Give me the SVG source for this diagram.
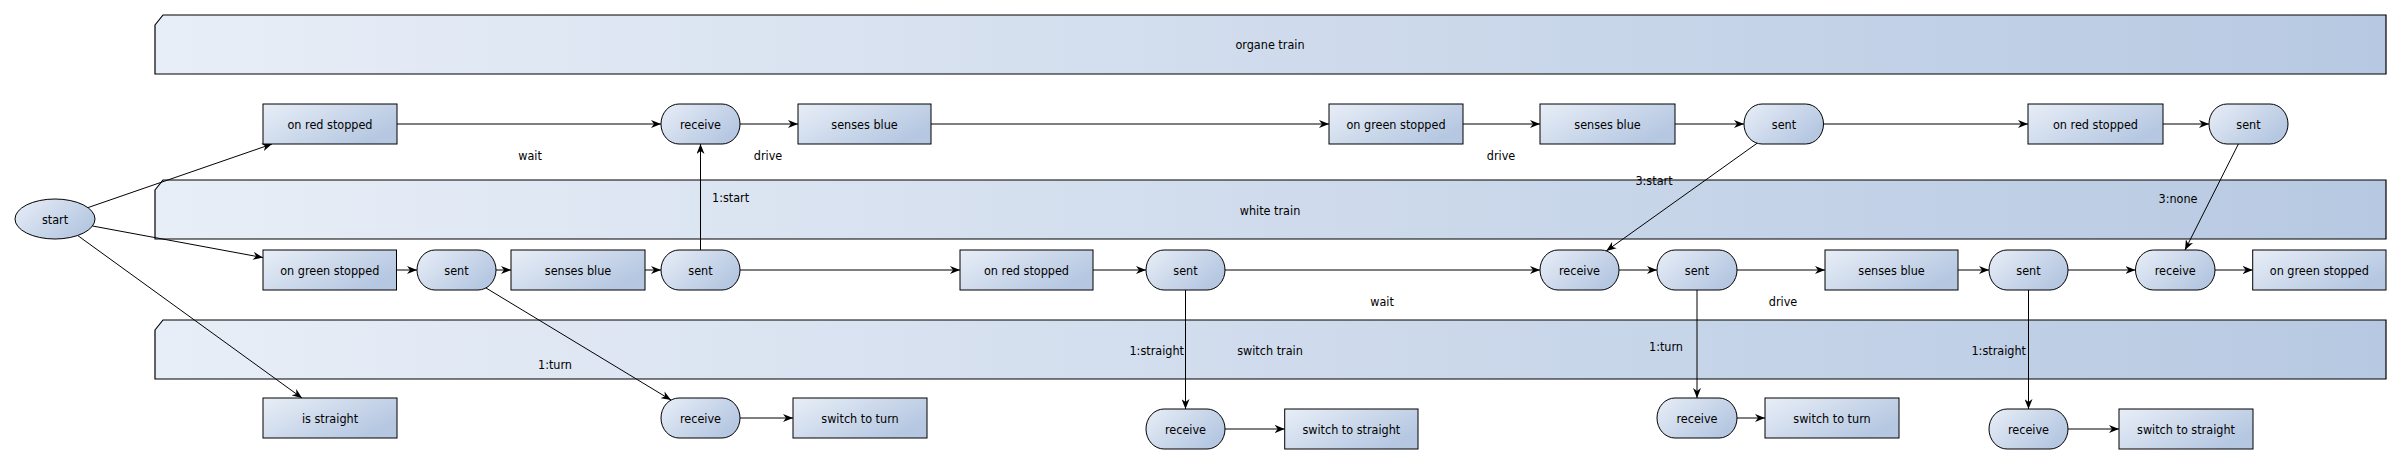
<svg xmlns="http://www.w3.org/2000/svg" width="2402" height="464" viewBox="0 0 2402 464">
<style>
text{font-family:"DejaVu Sans Condensed","DejaVu Sans","Liberation Sans",sans-serif;font-size:12.5px;fill:#000;text-anchor:middle;dominant-baseline:central}
.n{fill:url(#ng);stroke:#000;stroke-width:1}
.b{fill:url(#bg);stroke:#000;stroke-width:1.2}
.e{fill:none;stroke:#000;stroke-width:1;marker-end:url(#ar)}
.end{text-anchor:end}
.start{text-anchor:start}
</style>
<defs>
<linearGradient id="ng" x1="0" y1="0" x2="1" y2="0.6">
<stop offset="0" stop-color="#e8eef7"/>
<stop offset="1" stop-color="#b5c7e1"/>
</linearGradient>
<linearGradient id="bg" x1="0" y1="0" x2="1" y2="0">
<stop offset="0" stop-color="#e8eef7"/>
<stop offset="1" stop-color="#b7c9e2"/>
</linearGradient>
<marker id="ar" markerWidth="10" markerHeight="8" refX="10" refY="4" orient="auto" markerUnits="userSpaceOnUse">
<path d="M0,0 L10,4 L0,8 L3,4 Z" fill="#000"/>
</marker>
</defs>

<g id="lane-organe">
<path class="b" d="M155,25 L163,15 L2386,15 L2386,74 L155,74 Z"/>
<text x="1270" y="44">organe train</text>
</g>
<g id="lane-white">
<path class="b" d="M155,190 L163,180 L2386,180 L2386,239 L155,239 Z"/>
<text x="1270" y="210">white train</text>
</g>
<g id="lane-switch">
<path class="b" d="M155,330 L163,320 L2386,320 L2386,379 L155,379 Z"/>
<text x="1270" y="350">switch train</text>
</g>

<g id="connectors">
<line class="e" x1="88" y1="207.6" x2="272" y2="144"/>
<line class="e" x1="92.5" y1="226" x2="263" y2="257.6"/>
<line class="e" x1="77.7" y1="235.5" x2="302" y2="398"/>
<line class="e" x1="397" y1="124" x2="661" y2="124"/>
<line class="e" x1="740" y1="124" x2="798" y2="124"/>
<line class="e" x1="931" y1="124" x2="1329" y2="124"/>
<line class="e" x1="1463" y1="124" x2="1540" y2="124"/>
<line class="e" x1="1675" y1="124" x2="1744" y2="124"/>
<line class="e" x1="1823.5" y1="124" x2="2028" y2="124"/>
<line class="e" x1="2163" y1="124" x2="2209" y2="124"/>
<line class="e" x1="396.5" y1="270" x2="417" y2="270"/>
<line class="e" x1="496" y1="270" x2="511" y2="270"/>
<line class="e" x1="645" y1="270" x2="661" y2="270"/>
<line class="e" x1="740" y1="270" x2="960" y2="270"/>
<line class="e" x1="1093" y1="270" x2="1146" y2="270"/>
<line class="e" x1="1225" y1="270" x2="1540" y2="270"/>
<line class="e" x1="1619" y1="270" x2="1657" y2="270"/>
<line class="e" x1="1737" y1="270" x2="1825" y2="270"/>
<line class="e" x1="1958" y1="270" x2="1989" y2="270"/>
<line class="e" x1="2068" y1="270" x2="2135.5" y2="270"/>
<line class="e" x1="2215" y1="270" x2="2252.7" y2="270"/>
<line class="e" x1="740" y1="418" x2="793" y2="418"/>
<line class="e" x1="1737" y1="418" x2="1765" y2="418"/>
<line class="e" x1="1225" y1="429" x2="1284.7" y2="429"/>
<line class="e" x1="2068" y1="429" x2="2119" y2="429"/>
<line class="e" x1="700.5" y1="250" x2="700.5" y2="144"/>
<line class="e" x1="1185.5" y1="290" x2="1185.5" y2="409"/>
<line class="e" x1="1697" y1="290" x2="1697" y2="398"/>
<line class="e" x1="2028.5" y1="290" x2="2028.5" y2="409"/>
<line class="e" x1="486" y1="288" x2="671" y2="400"/>
<line class="e" x1="1757" y1="143.3" x2="1606.3" y2="250.9"/>
<line class="e" x1="2238.4" y1="144" x2="2185" y2="250"/>
<text x="530" y="155">wait</text>
<text x="768" y="155">drive</text>
<text x="1501" y="155">drive</text>
<text x="1382" y="301">wait</text>
<text x="1783" y="301">drive</text>
<text class="start" x="712" y="197">1:start</text>
<text x="555" y="364">1:turn</text>
<text class="end" x="1184" y="350">1:straight</text>
<text x="1654" y="180">3:start</text>
<text x="2178" y="198">3:none</text>
<text x="1666" y="346">1:turn</text>
<text class="end" x="2026" y="350">1:straight</text>
</g>

<g id="start"><ellipse class="n" cx="55" cy="219" rx="40" ry="20"/><text x="55" y="219">start</text></g>

<g id="o-onred1"><rect class="n" x="263" y="104" width="134" height="40"/><text x="330" y="124">on red stopped</text></g>
<g id="o-receive"><rect class="n" x="661" y="104" width="79" height="40" rx="18" ry="20"/><text x="700.5" y="124">receive</text></g>
<g id="o-senses1"><rect class="n" x="798" y="104" width="133" height="40"/><text x="864.5" y="124">senses blue</text></g>
<g id="o-ongreen"><rect class="n" x="1329" y="104" width="134" height="40"/><text x="1396" y="124">on green stopped</text></g>
<g id="o-senses2"><rect class="n" x="1540" y="104" width="135" height="40"/><text x="1607.5" y="124">senses blue</text></g>
<g id="o-sent1"><rect class="n" x="1744" y="104" width="79.5" height="40" rx="18" ry="20"/><text x="1784" y="124">sent</text></g>
<g id="o-onred2"><rect class="n" x="2028" y="104" width="135" height="40"/><text x="2095.5" y="124">on red stopped</text></g>
<g id="o-sent2"><rect class="n" x="2209" y="104" width="79" height="40" rx="18" ry="20"/><text x="2248.5" y="124">sent</text></g>

<g id="w-ongreen1"><rect class="n" x="263" y="250" width="133.5" height="40"/><text x="329.75" y="270">on green stopped</text></g>
<g id="w-sent1"><rect class="n" x="417" y="250" width="79" height="40" rx="18" ry="20"/><text x="456.5" y="270">sent</text></g>
<g id="w-senses1"><rect class="n" x="511" y="250" width="134" height="40"/><text x="578" y="270">senses blue</text></g>
<g id="w-sent2"><rect class="n" x="661" y="250" width="79" height="40" rx="18" ry="20"/><text x="700.5" y="270">sent</text></g>
<g id="w-onred"><rect class="n" x="960" y="250" width="133" height="40"/><text x="1026.5" y="270">on red stopped</text></g>
<g id="w-sent3"><rect class="n" x="1146" y="250" width="79" height="40" rx="18" ry="20"/><text x="1185.5" y="270">sent</text></g>
<g id="w-receive1"><rect class="n" x="1540" y="250" width="79" height="40" rx="18" ry="20"/><text x="1579.5" y="270">receive</text></g>
<g id="w-sent4"><rect class="n" x="1657" y="250" width="80" height="40" rx="18" ry="20"/><text x="1697" y="270">sent</text></g>
<g id="w-senses2"><rect class="n" x="1825" y="250" width="133" height="40"/><text x="1891.5" y="270">senses blue</text></g>
<g id="w-sent5"><rect class="n" x="1989" y="250" width="79" height="40" rx="18" ry="20"/><text x="2028.5" y="270">sent</text></g>
<g id="w-receive2"><rect class="n" x="2135.5" y="250" width="79.5" height="40" rx="18" ry="20"/><text x="2175.25" y="270">receive</text></g>
<g id="w-ongreen2"><rect class="n" x="2252.7" y="250" width="133.3" height="40"/><text x="2319.35" y="270">on green stopped</text></g>

<g id="s-isstraight"><rect class="n" x="263" y="398" width="134" height="40"/><text x="330" y="418">is straight</text></g>
<g id="s-receive1"><rect class="n" x="661" y="398" width="79" height="40" rx="18" ry="20"/><text x="700.5" y="418">receive</text></g>
<g id="s-toturn1"><rect class="n" x="793" y="398" width="134" height="40"/><text x="860" y="418">switch to turn</text></g>
<g id="s-receive2"><rect class="n" x="1146" y="409" width="79" height="40" rx="18" ry="20"/><text x="1185.5" y="429">receive</text></g>
<g id="s-tostraight1"><rect class="n" x="1284.7" y="409" width="133.3" height="40"/><text x="1351.35" y="429">switch to straight</text></g>
<g id="s-receive3"><rect class="n" x="1657" y="398" width="80" height="40" rx="18" ry="20"/><text x="1697" y="418">receive</text></g>
<g id="s-toturn2"><rect class="n" x="1765" y="398" width="134" height="40"/><text x="1832" y="418">switch to turn</text></g>
<g id="s-receive4"><rect class="n" x="1989" y="409" width="79" height="40" rx="18" ry="20"/><text x="2028.5" y="429">receive</text></g>
<g id="s-tostraight2"><rect class="n" x="2119" y="409" width="134" height="40"/><text x="2186" y="429">switch to straight</text></g>
</svg>
